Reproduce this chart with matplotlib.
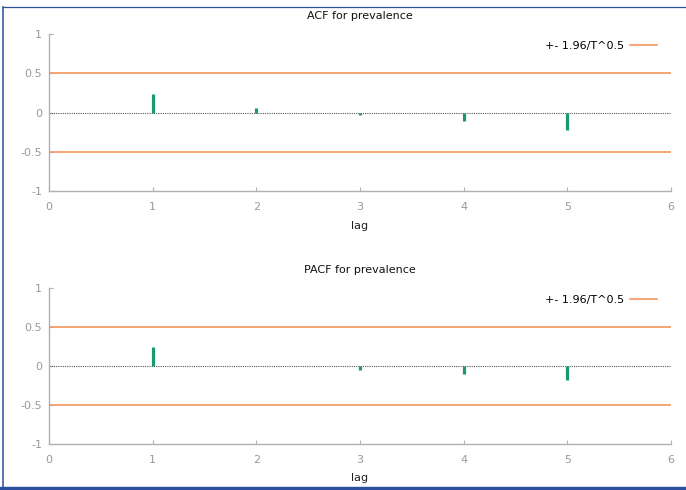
import matplotlib
matplotlib.use('Agg')
import matplotlib.pyplot as plt
from matplotlib.lines import Line2D
from matplotlib.patches import Rectangle

# correlogram values
lags = [1, 2, 3, 4, 5]
acf_vals = [0.24, 0.06, -0.03, -0.11, -0.22]
pacf_vals = [0.24, 0.0, -0.05, -0.10, -0.18]
band = 0.5  # +- 1.96/T^0.5
titles = ['ACF for prevalence', 'PACF for prevalence']

green = '#1a9a6c'
orange = '#f4965e'
gray = '#b0b0b0'

fig = plt.figure(figsize=(6.86, 4.9), dpi=100)
fig.patch.set_facecolor('white')

positions = [[0.0714, 0.610, 0.9067, 0.3204],
             [0.0714, 0.0939, 0.9067, 0.3184]]

for pos, vals, title in zip(positions, [acf_vals, pacf_vals], titles):
    ax = fig.add_axes(pos)
    ax.plot([0, 6], [0, 0], color='#555555', linestyle=(0, (1, 1)), lw=0.8)
    ax.plot([0, 6], [band, band], color=orange, lw=1.2, label='+- 1.96/T^0.5')
    ax.plot([0, 6], [-band, -band], color=orange, lw=1.2)
    ax.vlines(lags, 0, vals, color=green, lw=2.3)
    ax.set_xlim(0, 6)
    ax.set_ylim(-1, 1)
    ax.set_xticks(range(7))
    ax.set_yticks([-1, -0.5, 0, 0.5, 1])
    ax.set_yticklabels(['-1', '-0.5', '0', '0.5', '1'])
    for s in ['top', 'right']:
        ax.spines[s].set_visible(False)
    for s in ['left', 'bottom']:
        ax.spines[s].set_color(gray)
        ax.spines[s].set_linewidth(1.0)
    ax.tick_params(direction='in', length=3, color=gray, labelcolor='#999999',
                   labelsize=8)
    ax.tick_params(axis='x', pad=8)
    ax.tick_params(axis='y', pad=5)
    ax.set_title(title, fontsize=8, pad=11, color='#111111')
    ax.set_xlabel('lag', fontsize=8, labelpad=6, color='#222222')
    ax.legend(loc='center right', bbox_to_anchor=(0.977, 0.924), frameon=False,
              markerfirst=False, fontsize=8, handlelength=2.4,
              borderpad=0, borderaxespad=0, handletextpad=0.5)

# blue frame of the screenshot
blue = '#2b4f9c'
fig.add_artist(Line2D([3.5 / 686, 1], [1 - 7.5 / 490, 1 - 7.5 / 490],
                      color=blue, lw=0.9, transform=fig.transFigure))
fig.add_artist(Line2D([3.5 / 686, 3.5 / 686], [0, 1 - 7.5 / 490],
                      color=blue, lw=1.1, transform=fig.transFigure))
fig.add_artist(Rectangle((0, 0), 1, 3.5 / 490, color=blue,
                         transform=fig.transFigure))

fig.savefig('out.png', dpi=100)
